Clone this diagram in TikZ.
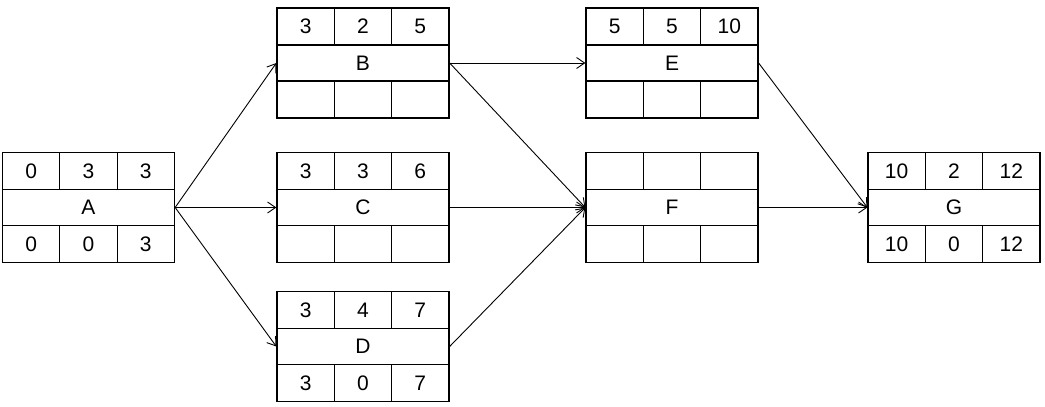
\documentclass[tikz,border=0pt]{standalone}
\usepackage{fontspec}
\setmainfont{Liberation Sans}
\usetikzlibrary{arrows.meta}
\tikzset{
	box/.style={draw,line width=1.3pt,rectangle,inner sep=0pt,minimum width=172pt,minimum height=110pt,text height=15pt,text depth=0pt},
	cell/.style={inner sep=0pt,text height=15pt,text depth=0pt},
	arr/.style={line width=0.9pt,-{Straight Barb[length=8pt,width=11pt]}}
}
\newcommand{\activity}[9]{
	\node [box] (#1) at (#2) {#3};
	\begin{scope}[shift={(#1.center)},line width=1.3pt]
		\draw (-86,18) -- (86,18);
		\draw (-86,-18) -- (86,-18);
		\draw (-28.67,55) -- (-28.67,18);
		\draw (28.67,55) -- (28.67,18);
		\draw (-28.67,-55) -- (-28.67,-18);
		\draw (28.67,-55) -- (28.67,-18);
		\node [cell] at (-57.33,36.5) {#4};
		\node [cell] at (0,36.5) {#5};
		\node [cell] at (57.33,36.5) {#6};
		\node [cell] at (-57.33,-36.5) {#7};
		\node [cell] at (0,-36.5) {#8};
		\node [cell] at (57.33,-36.5) {#9};
	\end{scope}
}

\begin{document}
\begin{tikzpicture}[x=1pt,y=1pt,font=\fontsize{21}{25}\selectfont]
	\useasboundingbox (0,0) rectangle (1045,407);
	\activity{A}{88.5,199.5}{A}{0}{3}{3}{0}{0}{3}
	\activity{B}{363,344}{B}{3}{2}{5}{}{}{}
	\activity{C}{363,199.5}{C}{3}{3}{6}{}{}{}
	\activity{D}{363,60.5}{D}{3}{4}{7}{3}{0}{7}
	\activity{E}{672,344}{E}{5}{5}{10}{}{}{}
	\activity{F}{672,199.5}{F}{}{}{}{}{}{}
	\activity{G}{954,199.5}{G}{10}{2}{12}{10}{0}{12}

	\draw [arr] (A.east) -- (B.west);
	\draw [arr] (A.east) -- (C.west);
	\draw [arr] (A.east) -- (D.west);
	\draw [arr] (B.east) -- (E.west);
	\draw [arr] (B.east) -- (F.west);
	\draw [arr] (C.east) -- (F.west);
	\draw [arr] (D.east) -- (F.west);
	\draw [arr] (E.east) -- (G.west);
	\draw [arr] (F.east) -- (G.west);
\end{tikzpicture}
\end{document}
